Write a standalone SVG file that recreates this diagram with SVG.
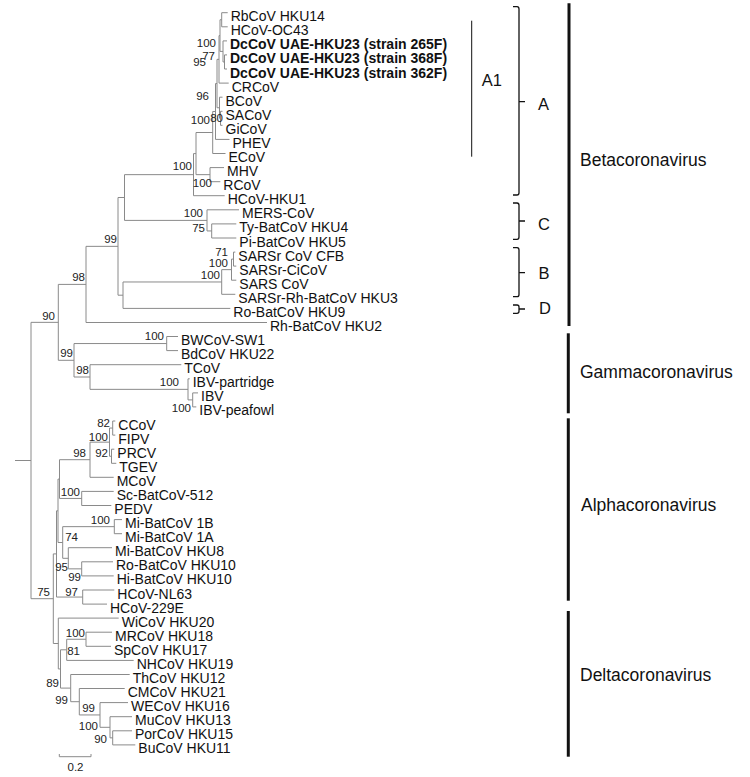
<svg xmlns="http://www.w3.org/2000/svg" width="750" height="777" viewBox="0 0 750 777">
<style>
.br{fill:none;stroke:#8a8a8a;stroke-width:1}
.lf{font-family:"Liberation Sans",Arial,sans-serif;font-size:14px;fill:#111}
.bd{font-weight:bold}
.bs{font-family:"Liberation Sans",Arial,sans-serif;font-size:11.5px;fill:#222;text-anchor:end}
.cl{font-family:"Liberation Sans",Arial,sans-serif;font-size:16.5px;fill:#111}
.gn{font-family:"Liberation Sans",Arial,sans-serif;font-size:17.5px;fill:#111}
.bk{fill:none;stroke:#111;stroke-width:1.3}
.bar{stroke:#111;stroke-width:3}
</style>
<rect width="750" height="777" fill="#fff"/>
<g id="connectors">
<path class="br" d="M221.7 12.7V26.8M221.7 12.7H227.7M221.7 26.8H227.7M224.5 54.9V69M224.5 54.9H227M224.5 69H227M223 40.9V61.95M223 40.9H227M223 61.95H224.5M220 19.75V51.4M220 19.75H221.7M220 51.4H223M219 35.6V83.1M219 35.6H220M219 83.1H228.7M220.5 111.3V125.3M220.5 111.3H222.5M220.5 125.3H222.5M219.5 97.2V118.3M219.5 97.2H222.5M219.5 118.3H220.5M217 59.35V107.75M217 59.35H219M217 107.75H219.5M215.5 83.55V139.4M215.5 83.55H217M215.5 139.4H229.5M212.7 111.5V153.5M212.7 111.5H215.5M212.7 153.5H225.5M210 167.6V181.7M210 167.6H224M210 181.7H220.3M196 132.5V174.65M196 132.5H212.7M196 174.65H210M193.5 153.6V195.7M193.5 153.6H196M193.5 195.7H224.7"/>
<path class="br" d="M211.7 223.9V238M211.7 223.9H236.3M211.7 238H236.3M207 209.8V230.95M207 209.8H239M207 230.95H211.7M124.5 174.65V220.4M124.5 174.65H193.5M124.5 220.4H207"/>
<path class="br" d="M233.5 252.1V266.1M233.5 252.1H235.3M233.5 266.1H236.3M231.5 259.1V280.2M231.5 259.1H233.5M231.5 280.2H236.3M221.7 269.65V294.3M221.7 269.65H231.5M221.7 294.3H235.3M123 281.98V308.4M123 281.98H221.7M123 308.4H230.3M118 197.5V295.2M118 197.5H124.5M118 295.2H123M86 246.35V322.5M86 246.35H118M86 322.5H267"/>
<path class="br" d="M166.7 336.5V350.6M166.7 336.5H178M166.7 350.6H178M192.7 392.9V406.9M192.7 392.9H198M192.7 406.9H196.3M188 378.8V399.9M188 378.8H189.7M188 399.9H192.7M90 364.7V389.35M90 364.7H181.3M90 389.35H188M74 343.55V377M74 343.55H166.7M74 377H90M58.3 284.4V360.3M58.3 284.4H86M58.3 360.3H74"/>
<path class="br" d="M31 322.35V598.7M31 322.35H58.3M31 598.7H53.3M15 460.5H31"/>
<path class="br" d="M112.7 421V435.1M112.7 421H115.3M112.7 435.1H115.3M111.5 449.2V463.3M111.5 449.2H114.3M111.5 463.3H116.3M109.5 428.05V456.25M109.5 428.05H112.7M109.5 456.25H111.5M90 442.15V477.3M90 442.15H109.5M90 477.3H113.7M81.7 491.4V505.5M81.7 491.4H113.7M81.7 505.5H111.3M59.5 459.7V498.45M59.5 459.7H90M59.5 498.45H81.7M114.3 519.6V533.7M114.3 519.6H122M114.3 533.7H122M81.7 561.8V575.9M81.7 561.8H113M81.7 575.9H113.7M68.3 547.7V568.85M68.3 547.7H112M68.3 568.85H81.7M62.7 526.65V558.3M62.7 526.65H114.3M62.7 558.3H68.3M58 479.1V542.5M58 479.1H59.5M58 542.5H62.7M82.7 590V604.1M82.7 590H114.3M82.7 604.1H107M56.5 510.8V597.05M56.5 510.8H58M56.5 597.05H82.7"/>
<path class="br" d="M112.7 730.8V744.9M112.7 730.8H132M112.7 744.9H135.3M110 716.7V737.85M110 716.7H132M110 737.85H112.7M100 702.6V727.3M100 702.6H128M100 727.3H110M79.3 688.5V714.95M79.3 688.5H124.7M79.3 714.95H100M70.7 674.5V701.7M70.7 674.5H129.7M70.7 701.7H79.3M86 632.2V646.3M86 632.2H112M86 646.3H111M66.7 639.25V660.4M66.7 639.25H86M66.7 660.4H133.7M60.5 649.8V688.1M60.5 649.8H66.7M60.5 688.1H70.7M58.3 618.1V668.95M58.3 618.1H118.7M58.3 668.95H60.5M53.3 553.9V643.5M53.3 553.9H56.5M53.3 643.5H58.3"/>
</g>
<g id="leaves">
<g id="n-RbCoV"><text class="lf" x="230.7" y="21.2">RbCoV HKU14</text></g>
<g id="n-OC43"><text class="lf" x="230.7" y="35.3">HCoV-OC43</text></g>
<g id="n-265F"><text class="lf bd" x="230" y="49.4">DcCoV UAE-HKU23 (strain 265F)</text></g>
<g id="n-368F"><text class="lf bd" x="230" y="63.4">DcCoV UAE-HKU23 (strain 368F)</text></g>
<g id="n-362F"><text class="lf bd" x="230" y="77.5">DcCoV UAE-HKU23 (strain 362F)</text></g>
<g id="n-CRCoV"><text class="lf" x="231.7" y="91.6">CRCoV</text></g>
<g id="n-BCoV"><text class="lf" x="225.5" y="105.7">BCoV</text></g>
<g id="n-SACoV"><text class="lf" x="225.5" y="119.8">SACoV</text></g>
<g id="n-GiCoV"><text class="lf" x="225.5" y="133.8">GiCoV</text></g>
<g id="n-PHEV"><text class="lf" x="232.5" y="147.9">PHEV</text></g>
<g id="n-ECoV"><text class="lf" x="228.5" y="162">ECoV</text></g>
<g id="n-MHV"><text class="lf" x="227" y="176.1">MHV</text></g>
<g id="n-RCoV"><text class="lf" x="223.3" y="190.2">RCoV</text></g>
<g id="n-HKU1"><text class="lf" x="227.7" y="204.2">HCoV-HKU1</text></g>
<g id="n-MERS"><text class="lf" x="242" y="218.3">MERS-CoV</text></g>
<g id="n-HKU4"><text class="lf" x="239.3" y="232.4">Ty-BatCoV HKU4</text></g>
<g id="n-HKU5"><text class="lf" x="239.3" y="246.5">Pi-BatCoV HKU5</text></g>
<g id="n-CFB"><text class="lf" x="238.3" y="260.6">SARSr CoV CFB</text></g>
<g id="n-CiCoV"><text class="lf" x="239.3" y="274.6">SARSr-CiCoV</text></g>
<g id="n-SARS"><text class="lf" x="239.3" y="288.7">SARS CoV</text></g>
<g id="n-HKU3"><text class="lf" x="238.3" y="302.8">SARSr-Rh-BatCoV HKU3</text></g>
<g id="n-HKU9"><text class="lf" x="233.3" y="316.9">Ro-BatCoV HKU9</text></g>
<g id="n-HKU2"><text class="lf" x="270" y="331">Rh-BatCoV HKU2</text></g>
<g id="n-BWCoV"><text class="lf" x="181" y="345">BWCoV-SW1</text></g>
<g id="n-BdCoV"><text class="lf" x="181" y="359.1">BdCoV HKU22</text></g>
<g id="n-TCoV"><text class="lf" x="184.3" y="373.2">TCoV</text></g>
<g id="n-IBVp"><text class="lf" x="192.7" y="387.3">IBV-partridge</text></g>
<g id="n-IBV"><text class="lf" x="201" y="401.4">IBV</text></g>
<g id="n-IBVpf"><text class="lf" x="199.3" y="415.4">IBV-peafowl</text></g>
<g id="n-CCoV"><text class="lf" x="118.3" y="429.5">CCoV</text></g>
<g id="n-FIPV"><text class="lf" x="118.3" y="443.6">FIPV</text></g>
<g id="n-PRCV"><text class="lf" x="117.3" y="457.7">PRCV</text></g>
<g id="n-TGEV"><text class="lf" x="119.3" y="471.8">TGEV</text></g>
<g id="n-MCoV"><text class="lf" x="116.7" y="485.8">MCoV</text></g>
<g id="n-Sc512"><text class="lf" x="116.7" y="499.9">Sc-BatCoV-512</text></g>
<g id="n-PEDV"><text class="lf" x="114.3" y="514">PEDV</text></g>
<g id="n-Mi1B"><text class="lf" x="125" y="528.1">Mi-BatCoV 1B</text></g>
<g id="n-Mi1A"><text class="lf" x="125" y="542.2">Mi-BatCoV 1A</text></g>
<g id="n-HKU8"><text class="lf" x="115" y="556.2">Mi-BatCoV HKU8</text></g>
<g id="n-RoHKU10"><text class="lf" x="116" y="570.3">Ro-BatCoV HKU10</text></g>
<g id="n-HiHKU10"><text class="lf" x="116.7" y="584.4">Hi-BatCoV HKU10</text></g>
<g id="n-NL63"><text class="lf" x="117.3" y="598.5">HCoV-NL63</text></g>
<g id="n-229E"><text class="lf" x="110" y="612.6">HCoV-229E</text></g>
<g id="n-HKU20"><text class="lf" x="121.7" y="626.6">WiCoV HKU20</text></g>
<g id="n-HKU18"><text class="lf" x="115" y="640.7">MRCoV HKU18</text></g>
<g id="n-HKU17"><text class="lf" x="114" y="654.8">SpCoV HKU17</text></g>
<g id="n-HKU19"><text class="lf" x="136.7" y="668.9">NHCoV HKU19</text></g>
<g id="n-HKU12"><text class="lf" x="132.7" y="683">ThCoV HKU12</text></g>
<g id="n-HKU21"><text class="lf" x="127.7" y="697">CMCoV HKU21</text></g>
<g id="n-HKU16"><text class="lf" x="131" y="711.1">WECoV HKU16</text></g>
<g id="n-HKU13"><text class="lf" x="135" y="725.2">MuCoV HKU13</text></g>
<g id="n-HKU15"><text class="lf" x="135" y="739.3">PorCoV HKU15</text></g>
<g id="n-HKU11"><text class="lf" x="138.3" y="753.4">BuCoV HKU11</text></g>
</g>
<g id="bootstrap">
<text class="bs" x="216" y="47">100</text>
<text class="bs" x="215" y="60">77</text>
<text class="bs" x="206" y="66">95</text>
<text class="bs" x="209" y="100">96</text>
<text class="bs" x="210" y="124">100</text>
<text class="bs" x="223" y="122">80</text>
<text class="bs" x="192" y="170">100</text>
<text class="bs" x="212" y="187">100</text>
<text class="bs" x="203" y="217">100</text>
<text class="bs" x="205" y="232">75</text>
<text class="bs" x="228" y="256">71</text>
<text class="bs" x="228" y="267">100</text>
<text class="bs" x="220" y="279">100</text>
<text class="bs" x="117" y="243">99</text>
<text class="bs" x="85" y="281">98</text>
<text class="bs" x="55" y="320">90</text>
<text class="bs" x="164" y="340">100</text>
<text class="bs" x="73" y="357">99</text>
<text class="bs" x="89" y="374">98</text>
<text class="bs" x="179" y="386">100</text>
<text class="bs" x="191" y="412">100</text>
<text class="bs" x="110" y="427">82</text>
<text class="bs" x="108" y="441">100</text>
<text class="bs" x="86" y="457">98</text>
<text class="bs" x="108" y="457">92</text>
<text class="bs" x="80" y="496">100</text>
<text class="bs" x="110" y="524">100</text>
<text class="bs" x="78" y="541">74</text>
<text class="bs" x="68" y="571">95</text>
<text class="bs" x="81" y="581">99</text>
<text class="bs" x="50" y="596">75</text>
<text class="bs" x="78" y="596">97</text>
<text class="bs" x="85" y="637">100</text>
<text class="bs" x="80" y="655">81</text>
<text class="bs" x="59" y="687">89</text>
<text class="bs" x="68" y="704">99</text>
<text class="bs" x="95" y="712">99</text>
<text class="bs" x="98" y="730">100</text>
<text class="bs" x="107" y="743">90</text>
</g>
<g id="scale-bar">
<path class="br" d="M59.3 754V756.7H91V754"/>
<text class="bs" x="75.5" y="771" style="text-anchor:middle">0.2</text>
</g>
<g id="clade-A1">
<path class="bk" d="M471.7 20.7V156.7" style="stroke-width:1"/>
<text class="cl" x="481.7" y="86">A1</text>
</g>
<g id="clade-A">
<path class="bk" d="M513 6.7H517Q519 6.7 519 9V192.7Q519 195 517 195H513M519 101.7H525"/>
<text class="cl" x="538" y="110">A</text>
</g>
<g id="clade-C">
<path class="bk" d="M513 203H517Q519 203 519 205.3V237Q519 239.3 517 239.3H513M519 221H525"/>
<text class="cl" x="538" y="230">C</text>
</g>
<g id="clade-B">
<path class="bk" d="M513 247.7H517Q519 247.7 519 250V294.4Q519 296.7 517 296.7H513M519 272.7H525"/>
<text class="cl" x="538.5" y="279">B</text>
</g>
<g id="clade-D">
<path class="bk" d="M513 305H517Q519 305 519 307V311.3Q519 313.3 517 313.3H513M519 309H525"/>
<text class="cl" x="539" y="314">D</text>
</g>
<g id="genus-beta">
<path class="bar" d="M569 3.3V326"/>
<text class="gn" x="580" y="166">Betacoronavirus</text>
</g>
<g id="genus-gamma">
<path class="bar" d="M568.3 333.3V413.3"/>
<text class="gn" x="580" y="378">Gammacoronavirus</text>
</g>
<g id="genus-alpha">
<path class="bar" d="M568.3 418.3V600.7"/>
<text class="gn" x="581" y="511">Alphacoronavirus</text>
</g>
<g id="genus-delta">
<path class="bar" d="M568.3 611V756.7"/>
<text class="gn" x="580" y="681">Deltacoronavirus</text>
</g>
</svg>
